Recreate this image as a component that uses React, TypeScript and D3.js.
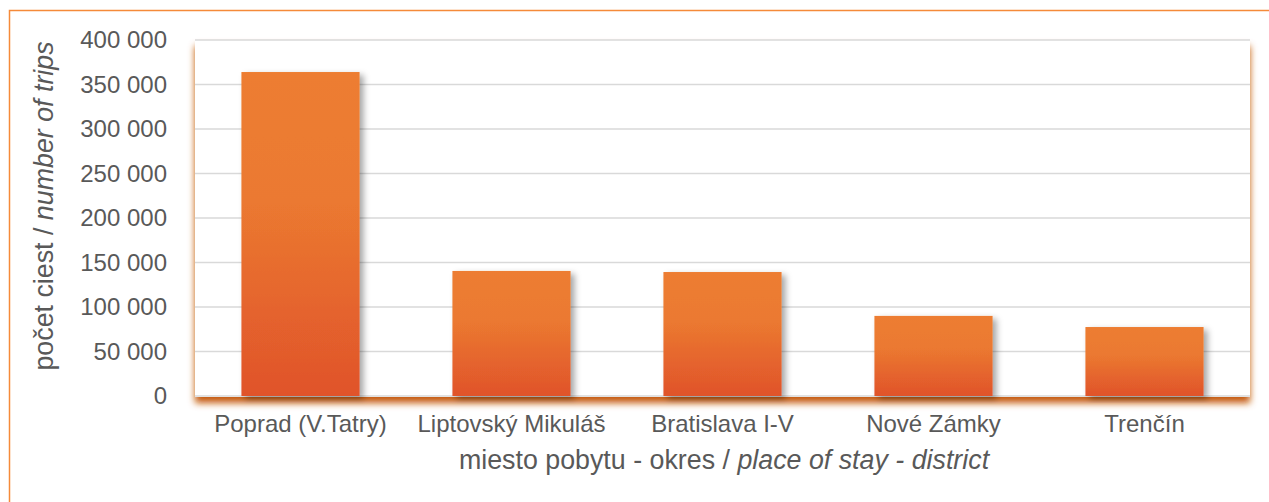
import React from 'react';
import * as d3 from 'd3';

// data
const districts = ['Poprad (V.Tatry)', 'Liptovský Mikuláš', 'Bratislava I-V', 'Nové Zámky', 'Trenčín'];
const trips = [364000, 140500, 139300, 90000, 77500];
const yTicks = [0, 50000, 100000, 150000, 200000, 250000, 300000, 350000, 400000];

const W = 1269;
const H = 502;
const plot = { left: 195, right: 1250, top: 40, bottom: 396 };
const font = '"Liberation Sans", Arial, sans-serif';
const textColor = '#595959';

const fmt = d3.formatLocale({ decimal: ',', thousands: '\u00a0', grouping: [3], currency: ['', ''] }).format(',d');

export default function App() {
  const x = d3.scaleBand<string>()
    .domain(districts)
    .range([plot.left, plot.right])
    .paddingInner(0.44)
    .paddingOuter(0.22);

  const y = d3.scaleLinear()
    .domain([0, 400000])
    .range([plot.bottom, plot.top]);

  return (
    <div style={{ position: 'absolute', left: 0, top: 0 }}>
      <svg width={W} height={H} style={{ display: 'block', background: '#fff' }}>
        <defs>
          <linearGradient id="barGrad" x1="0" y1="0" x2="0" y2="1">
            <stop offset="0%" stopColor="#ED7D31" />
            <stop offset="40%" stopColor="#EB7930" />
            <stop offset="100%" stopColor="#E0532B" />
          </linearGradient>
          <filter id="plotShadow" x="-5%" y="-5%" width="110%" height="115%">
            <feDropShadow dx="0" dy="6" stdDeviation="3.5" floodColor="#C55A11" floodOpacity="1" />
          </filter>
          <filter id="barShadow" x="-10%" y="-10%" width="130%" height="120%">
            <feDropShadow dx="4" dy="3" stdDeviation="3" floodColor="#000" floodOpacity="0.35" />
          </filter>
        </defs>

        {/* outer frame, runs past the right and bottom edge */}
        <rect x={9.5} y={10.5} width={W + 20} height={H + 20} fill="none" stroke="#F58A3A" strokeWidth={1.5} />

        {/* plot area with orange shadow */}
        <rect
          x={plot.left}
          y={plot.top}
          width={plot.right - plot.left}
          height={plot.bottom - plot.top + 1}
          fill="#fff"
          filter="url(#plotShadow)"
        />

        {/* gridlines */}
        {yTicks.map(t => (
          <line
            key={t}
            x1={plot.left}
            x2={plot.right}
            y1={y(t)}
            y2={y(t)}
            stroke="#D9D9D9"
            strokeWidth={1.5}
          />
        ))}

        {/* bars */}
        {districts.map((d, i) => (
          <rect
            key={d}
            x={x(d)}
            y={y(trips[i])}
            width={x.bandwidth()}
            height={y(0) - y(trips[i])}
            fill="url(#barGrad)"
            filter="url(#barShadow)"
          />
        ))}

        {/* y tick labels */}
        {yTicks.map(t => (
          <text
            key={t}
            x={167}
            y={y(t)}
            dy="0.35em"
            textAnchor="end"
            fontFamily={font}
            fontSize={24}
            fill={textColor}
          >
            {fmt(t)}
          </text>
        ))}

        {/* x labels */}
        {districts.map(d => (
          <text
            key={d}
            x={(x(d) ?? 0) + x.bandwidth() / 2}
            y={432}
            textAnchor="middle"
            fontFamily={font}
            fontSize={24}
            fill={textColor}
          >
            {d}
          </text>
        ))}

        {/* axis titles */}
        <text
          transform="translate(53,206) rotate(-90)"
          textAnchor="middle"
          fontFamily={font}
          fontSize={26.8}
          fill={textColor}
        >
          počet ciest / <tspan fontStyle="italic">number of trips</tspan>
        </text>
        <text
          x={724}
          y={469}
          textAnchor="middle"
          fontFamily={font}
          fontSize={26.8}
          fill={textColor}
        >
          miesto pobytu - okres / <tspan fontStyle="italic">place of stay - district</tspan>
        </text>
      </svg>
    </div>
  );
}
